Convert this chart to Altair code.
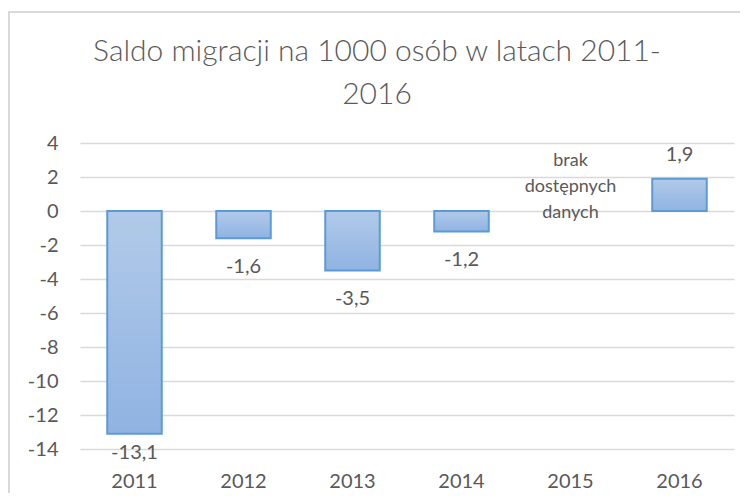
import altair as alt
import pandas as pd

years = ["2011", "2012", "2013", "2014", "2015", "2016"]
values = [-13.1, -1.6, -3.5, -1.2, None, 1.9]
labels = ["-13,1", "-1,6", "-3,5", "-1,2", "", "1,9"]
note_year = "2015"
note_lines = ["brak", "dostępnych", "danych"]
title_lines = ["Saldo migracji na 1000 osób w latach 2011-", "2016"]
y_ticks = [-14, -12, -10, -8, -6, -4, -2, 0, 2, 4]

df = pd.DataFrame({"year": years, "value": values, "label": labels})
data = df.dropna(subset=["value"])

FONT = "Lato"
GRAY = "#595959"

x_axis = alt.Axis(labelAngle=0, domain=False, ticks=False, labelPadding=22,
                  labelFontSize=20, labelColor=GRAY, labelFont=FONT, grid=False)
x_scale = alt.Scale(domain=years, paddingInner=0.5, paddingOuter=0.25)
x = alt.X("year:N", sort=years, title=None, scale=x_scale, axis=x_axis)

y_axis = alt.Axis(values=y_ticks, labelExpr="'' + datum.value", domain=False,
                  ticks=False, labelPadding=22, labelFontSize=20,
                  labelColor=GRAY, labelFont=FONT, grid=True,
                  gridColor="#d9d9d9", gridWidth=1.5, labelOverlap=False)
yscale = alt.Scale(domain=[-14, 4], nice=False, zero=False)

grad = alt.Gradient(
    gradient="linear",
    stops=[alt.GradientStop(color="#b1cae9", offset=0),
           alt.GradientStop(color="#90b3e2", offset=1)],
    x1=0, x2=0, y1=0, y2=1,
)

bars = alt.Chart(data).mark_bar(color=grad, stroke="#5b9bd5", strokeWidth=2).encode(
    x=x,
    y=alt.Y("value:Q", scale=yscale, title=None, axis=y_axis),
    y2=alt.datum(0),
)

value_text = alt.Chart(data).transform_calculate(
    label_y="datum.value < 0 ? max(datum.value - 1.7, -14.25) : datum.value + 1.4"
).mark_text(font=FONT, fontSize=20, color=GRAY, baseline="middle").encode(
    x=x,
    y=alt.Y("label_y:Q", scale=yscale, title=None, axis=y_axis),
    text="label:N",
)

note = alt.Chart(pd.DataFrame({"year": [note_year], "note": [note_lines]})).mark_text(
    font=FONT, fontSize=18, color=GRAY, baseline="middle", lineHeight=26
).encode(
    x=x,
    y=alt.YDatum(2.95, scale=yscale, title=None, axis=y_axis),
    text="note:N",
)

title = alt.Chart(pd.DataFrame({"t": [title_lines]})).mark_text(
    font=FONT, fontSize=30, fontWeight=300, color=GRAY, baseline="middle",
    align="center", lineHeight=43
).encode(
    x=alt.value(297), y=alt.value(-91), text="t:N"
)

border = alt.Chart(pd.DataFrame({"a": [0]})).mark_rect(
    fill=None, stroke="#d9d9d9", strokeWidth=2
).encode(
    x=alt.value(-71), x2=alt.value(700), y=alt.value(-131), y2=alt.value(400)
)

chart = alt.layer(border, bars, value_text, note, title).properties(
    width=654,
    height=306,
    autosize=alt.AutoSizeParams(type="none"),
    padding={"left": 72, "top": 135, "right": 6, "bottom": 44},
).configure_view(stroke=None)

chart.save("out.html", embed_options={"renderer": "svg", "actions": False})
